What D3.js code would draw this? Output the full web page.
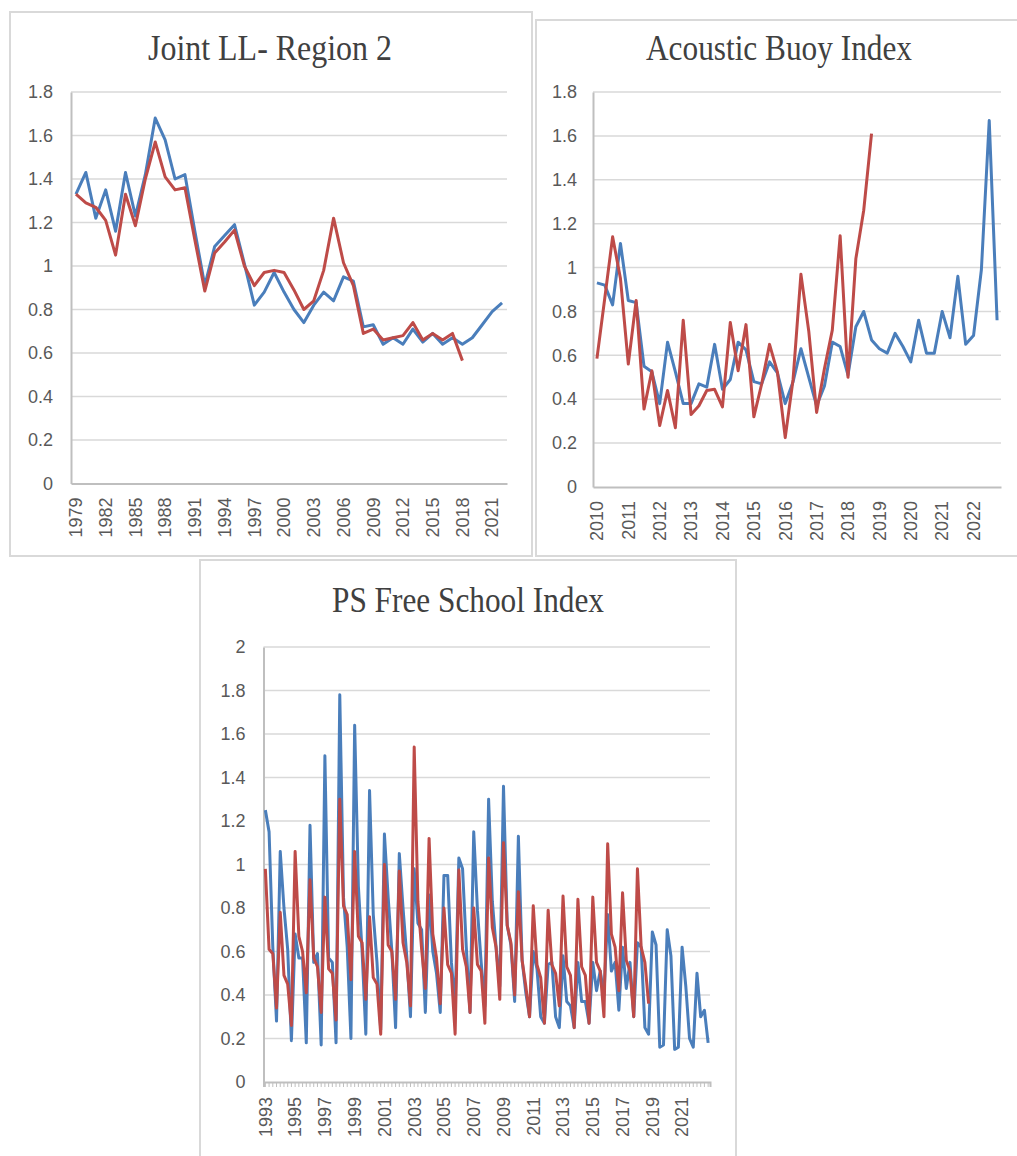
<!DOCTYPE html>
<html>
<head>
<meta charset="utf-8">
<script src="https://cdn.jsdelivr.net/npm/d3@7"></script>
<style>
  body { margin: 0; background: #fff; }
  svg { display: block; }
</style>
</head>
<body>
<div id="chart"></div>
<script>
// Joint LL - Region 2 (annual)
const llYears = d3.range(1979, 2023).map(String);
const llTicks = ['1979', '1982', '1985', '1988', '1991', '1994', '1997', '2000', '2003', '2006', '2009', '2012', '2015', '2018', '2021'];
const llBlue = [1.33, 1.43, 1.22, 1.35, 1.16, 1.43, 1.23, 1.42, 1.68, 1.58,
  1.40, 1.42, 1.16, 0.91, 1.09, 1.14, 1.19, 1.01, 0.82, 0.88,
  0.97, 0.88, 0.80, 0.74, 0.82, 0.88, 0.84, 0.95, 0.93, 0.72,
  0.73, 0.64, 0.67, 0.64, 0.71, 0.65, 0.69, 0.64, 0.67, 0.64,
  0.67, 0.73, 0.79, 0.83];
const llRed = [1.33, 1.29, 1.27, 1.21, 1.05, 1.33, 1.185, 1.40, 1.57, 1.41,
  1.35, 1.36, 1.12, 0.885, 1.06, 1.11, 1.165, 1.00, 0.91, 0.97,
  0.98, 0.97, 0.89, 0.80, 0.84, 0.98, 1.22, 1.015, 0.91, 0.69,
  0.71, 0.66, 0.67, 0.68, 0.74, 0.66, 0.69, 0.66, 0.69, 0.565];

// Acoustic Buoy Index (quarterly 2010-2022)
const abQuarters = d3.range(2010, 2023).flatMap(y => [1, 2, 3, 4].map(q => y + '-Q' + q));
const abTicks = ['2010', '2011', '2012', '2013', '2014', '2015', '2016', '2017', '2018', '2019', '2020', '2021', '2022'];
const abBlue = [0.93, 0.92, 0.83, 1.11, 0.85, 0.84, 0.55, 0.525, 0.38, 0.66,
  0.525, 0.38, 0.38, 0.47, 0.455, 0.65, 0.445, 0.49, 0.66, 0.625,
  0.48, 0.47, 0.57, 0.52, 0.38, 0.48, 0.63, 0.50, 0.37, 0.46,
  0.66, 0.64, 0.51, 0.73, 0.80, 0.67, 0.63, 0.61, 0.70, 0.64,
  0.57, 0.76, 0.61, 0.61, 0.80, 0.68, 0.96, 0.65, 0.69, 0.99,
  1.67, 0.76];
const abRed = [0.585, 0.86, 1.14, 0.95, 0.56, 0.85, 0.355, 0.53, 0.28, 0.44,
  0.27, 0.76, 0.33, 0.37, 0.44, 0.445, 0.365, 0.75, 0.53, 0.74,
  0.32, 0.47, 0.65, 0.525, 0.225, 0.49, 0.97, 0.71, 0.34, 0.54,
  0.715, 1.145, 0.50, 1.04, 1.26, 1.61];

// PS Free School Index (quarterly 1993-2022)
const psQuarters = d3.range(1993, 2023).flatMap(y => [1, 2, 3, 4].map(q => y + '-Q' + q));
const psTicks = ['1993', '1995', '1997', '1999', '2001', '2003', '2005', '2007', '2009', '2011', '2013', '2015', '2017', '2019', '2021'];
const psBlue = [
  1.25, 1.15, 0.62, 0.28,  1.06, 0.80, 0.61, 0.19,  0.68, 0.57, 0.57, 0.18,
  1.18, 0.55, 0.59, 0.17,  1.50, 0.57, 0.55, 0.18,  1.78, 0.85, 0.62, 0.20,
  1.64, 0.90, 0.60, 0.22,  1.34, 0.77, 0.55, 0.24,  1.14, 0.85, 0.60, 0.25,
  1.05, 0.80, 0.58, 0.30,  0.98, 0.73, 0.70, 0.32,  0.86, 0.60, 0.50, 0.32,
  0.95, 0.95, 0.55, 0.35,  1.03, 0.98, 0.62, 0.32,  1.15, 0.79, 0.55, 0.35,
  1.30, 0.83, 0.62, 0.44,  1.36, 0.72, 0.63, 0.37,  1.13, 0.56, 0.41, 0.30,
  0.60, 0.52, 0.30, 0.27,  0.54, 0.55, 0.30, 0.25,  0.58, 0.37, 0.35, 0.25,
  0.55, 0.37, 0.37, 0.27,  0.55, 0.42, 0.51, 0.40,  0.77, 0.51, 0.55, 0.33,
  0.62, 0.43, 0.55, 0.30,  0.64, 0.62, 0.25, 0.22,  0.69, 0.63, 0.16, 0.17,
  0.70, 0.58, 0.15, 0.16,  0.62, 0.44, 0.20, 0.16,  0.50, 0.30, 0.33, 0.18];
const psRed = [
  0.98, 0.61, 0.59, 0.34,  0.78, 0.49, 0.45, 0.26,  1.06, 0.67, 0.60, 0.41,
  0.93, 0.57, 0.53, 0.32,  0.85, 0.52, 0.50, 0.285, 1.30, 0.81, 0.77, 0.47,
  1.06, 0.67, 0.64, 0.38,  0.76, 0.48, 0.45, 0.22,  1.00, 0.63, 0.60, 0.38,
  0.97, 0.64, 0.55, 0.35,  1.54, 0.83, 0.61, 0.43,  1.12, 0.68, 0.57, 0.36,
  0.80, 0.54, 0.50, 0.22,  0.975, 0.61, 0.53, 0.32, 0.80, 0.54, 0.51, 0.27,
  1.03, 0.71, 0.62, 0.38,  1.10, 0.72, 0.64, 0.40,  0.875, 0.56, 0.44, 0.30,
  0.81, 0.54, 0.48, 0.27,  0.79, 0.54, 0.50, 0.35,  0.855, 0.53, 0.49, 0.25,
  0.84, 0.53, 0.49, 0.27,  0.85, 0.55, 0.51, 0.30,  1.095, 0.68, 0.62, 0.42,
  0.87, 0.56, 0.51, 0.30,  0.98, 0.62, 0.55, 0.36];

const blue = '#4a7ebb', red = '#be4b48';
const textColor = '#595959', gridColor = '#d9d9d9', axisColor = '#bfbfbf';

const svg = d3.select('#chart').append('svg')
  .attr('width', 1017)
  .attr('height', 1156);

svg.append('rect').attr('width', 1017).attr('height', 1156).attr('fill', '#fff');

function drawChart(cfg) {
  const g = svg.append('g');

  g.append('rect')
    .attr('x', cfg.box[0]).attr('y', cfg.box[1])
    .attr('width', cfg.box[2]).attr('height', cfg.box[3])
    .attr('fill', '#fff')
    .attr('stroke', '#d9d9d9')
    .attr('stroke-width', 2);

  g.append('text')
    .attr('x', cfg.titleX)
    .attr('y', cfg.titleY)
    .attr('text-anchor', 'middle')
    .attr('textLength', cfg.titleW)
    .attr('lengthAdjust', 'spacingAndGlyphs')
    .style('font-family', 'Liberation Serif, serif')
    .style('font-size', '36px')
    .style('fill', '#404040')
    .text(cfg.title);

  const x = d3.scaleBand().domain(cfg.cats).range([cfg.left, cfg.right]).padding(0);
  const y = d3.scaleLinear().domain([0, cfg.yMax]).range([cfg.bottom, cfg.top]);
  const yTicks = d3.range(0, cfg.yMax + 0.001, 0.2).map(v => +v.toFixed(1));

  g.append('g')
    .selectAll('line')
    .data(yTicks.filter(v => v > 0))
    .enter()
    .append('line')
    .attr('x1', cfg.left).attr('x2', cfg.right)
    .attr('y1', d => y(d)).attr('y2', d => y(d))
    .attr('stroke', gridColor)
    .attr('stroke-width', 1.5);

  const yAxis = g.append('g')
    .attr('transform', `translate(${cfg.left},0)`)
    .call(d3.axisLeft(y).tickValues(yTicks).tickSize(0).tickPadding(cfg.yPad).tickFormat(d => String(+d.toFixed(1))));
  yAxis.select('.domain').attr('stroke', axisColor).attr('stroke-width', 2);
  yAxis.selectAll('text')
    .style('font-family', 'Liberation Sans, sans-serif')
    .style('font-size', '18px')
    .style('fill', textColor);

  const xAxis = g.append('g')
    .attr('transform', `translate(0,${cfg.bottom})`)
    .call(d3.axisBottom(x).tickValues(cfg.cats).tickSize(cfg.tickLen).tickFormat(d => {
      const label = cfg.tickLabel(d);
      return cfg.ticks.includes(label) ? label : '';
    }));
  xAxis.select('.domain').attr('stroke', axisColor).attr('stroke-width', 2);
  xAxis.selectAll('.tick line').attr('stroke', axisColor);
  xAxis.selectAll('text')
    .attr('transform', 'rotate(-90)')
    .attr('x', -cfg.xPad)
    .attr('y', 0)
    .attr('dy', '0.35em')
    .style('text-anchor', 'end')
    .style('font-family', 'Liberation Sans, sans-serif')
    .style('font-size', '18px')
    .style('fill', textColor);

  const line = d3.line()
    .x((d, i) => x(cfg.cats[i]) + x.bandwidth() / 2)
    .y(d => y(d));

  g.append('path')
    .datum(cfg.blue)
    .attr('d', line)
    .attr('fill', 'none')
    .attr('stroke', blue)
    .attr('stroke-width', cfg.lineW)
    .attr('stroke-linejoin', 'round');

  g.append('path')
    .datum(cfg.red)
    .attr('d', line)
    .attr('fill', 'none')
    .attr('stroke', red)
    .attr('stroke-width', cfg.lineW)
    .attr('stroke-linejoin', 'round');
}

drawChart({
  box: [10, 12, 522, 544],
  title: 'Joint LL- Region 2', titleX: 270, titleY: 60, titleW: 244,
  cats: llYears, ticks: llTicks, tickLabel: d => d,
  left: 71, right: 507, top: 92, bottom: 483.5, yMax: 1.8, yPad: 18,
  tickLen: 0, xPad: 14, lineW: 3,
  blue: llBlue, red: llRed
});

drawChart({
  box: [536, 20, 490, 536],
  title: 'Acoustic Buoy Index', titleX: 779, titleY: 60, titleW: 266,
  cats: abQuarters, ticks: abTicks, tickLabel: d => d.endsWith('Q1') ? d.slice(0, 4) : '',
  left: 593, right: 1001, top: 92, bottom: 487, yMax: 1.8, yPad: 16,
  tickLen: 0, xPad: 14, lineW: 3,
  blue: abBlue, red: abRed
});

drawChart({
  box: [200, 560, 536, 610],
  title: 'PS Free School Index', titleX: 468, titleY: 612, titleW: 272,
  cats: psQuarters, ticks: psTicks, tickLabel: d => d.endsWith('Q1') ? d.slice(0, 4) : '',
  left: 263.5, right: 710, top: 647, bottom: 1082, yMax: 2, yPad: 18,
  tickLen: 5, xPad: 15, lineW: 3,
  blue: psBlue, red: psRed
});
</script>
</body>
</html>
